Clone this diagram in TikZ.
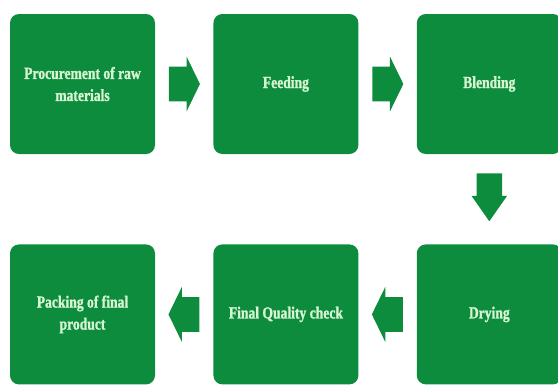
\documentclass[tikz,border=0pt]{standalone}
\usepackage{fontspec}
\usepackage{tikz}
\usetikzlibrary{shapes,shapes.arrows,positioning,calc}

\newfontfamily\boxfont{Liberation Serif}[FakeStretch=0.8,FakeBold=1.2]
\definecolor{boxgreen}{RGB}{14,140,62}
\definecolor{boxtext}{RGB}{214,245,210}

\begin{document}
\begin{tikzpicture}[x=1pt,y=1pt,
node distance=58pt]
\tikzstyle{stage}=[rectangle,rounded corners=9pt,
 minimum width=145pt, minimum height=140pt, fill=boxgreen, draw=none, text=boxtext, align=center,
 font=\boxfont\bfseries\fontsize{17}{22}\selectfont]
\tikzstyle{fatarrow}=[single arrow, fill=boxgreen, draw=none, inner xsep=0pt, inner ysep=17pt,
 minimum height=31pt, minimum width=55pt, single arrow head extend=10pt, single arrow tip angle=128]

\useasboundingbox (0,0) rectangle (558,-384);

% top row
\node[stage] (P0) at (82.5,-84) {Procurement of raw\\materials};
\node[stage, right=of P0] (P1) {Feeding};
\node[stage, right=of P1] (P2) {Blending};

% bottom row
\node[stage, below=90pt of P2] (P3) {Drying};
\node[stage, left=of P3] (P4) {Final Quality check};
\node[stage, left=of P4] (P5) {Packing of final\\product};

% arrows
\node[fatarrow, xshift=-4pt] (A0) at ($(P0.east)!0.5!(P1.west)$) {};
\node[fatarrow, xshift=-4pt] (A1) at ($(P1.east)!0.5!(P2.west)$) {};
\node[fatarrow, shape border rotate=270, inner xsep=12.5pt, inner ysep=0pt, minimum height=48pt, minimum width=35pt,
 single arrow head extend=5pt, single arrow tip angle=70, yshift=11pt] (A2) at ($(P2.south)!0.5!(P3.north)$) {};
\node[fatarrow, shape border rotate=180, xshift=4pt] (A3) at ($(P3.west)!0.5!(P4.east)$) {};
\node[fatarrow, shape border rotate=180, xshift=4pt] (A4) at ($(P4.west)!0.5!(P5.east)$) {};

\end{tikzpicture}
\end{document}
